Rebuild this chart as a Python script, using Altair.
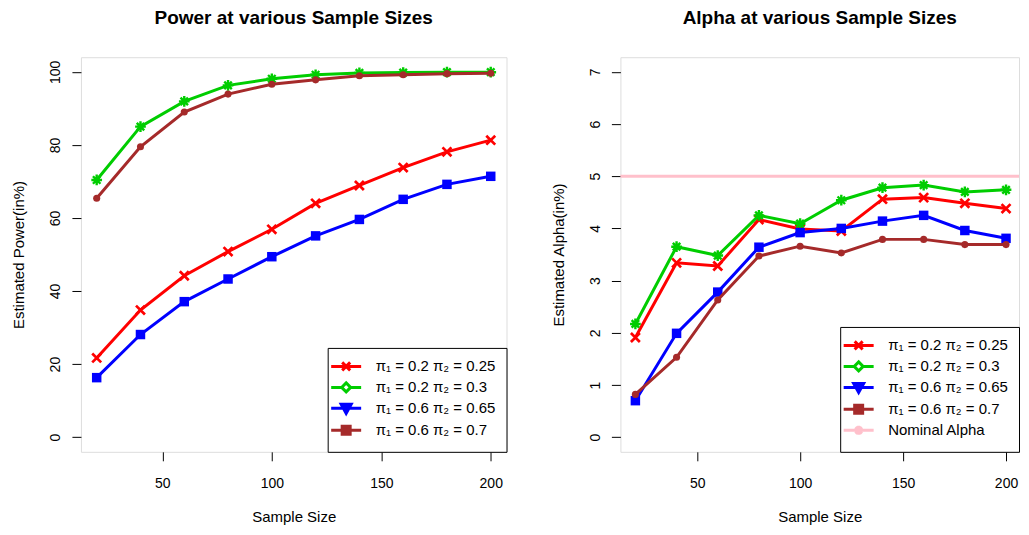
import altair as alt
import pandas as pd

# ---------------- data ----------------
sample_sizes = [20, 40, 60, 80, 100, 120, 140, 160, 180, 200]
series_labels = ["π₁ = 0.2 π₂ = 0.25", "π₁ = 0.2 π₂ = 0.3",
                 "π₁ = 0.6 π₂ = 0.65", "π₁ = 0.6 π₂ = 0.7"]
nominal_label = "Nominal Alpha"

power_red = [21.7, 34.8, 44.2, 50.8, 56.9, 64.0, 68.9, 73.8, 78.1, 81.3]
power_green = [70.4, 85.0, 91.9, 96.3, 98.1, 99.2, 99.7, 99.8, 99.9, 99.9]
power_blue = [16.3, 28.1, 37.1, 43.3, 49.4, 55.1, 59.6, 65.1, 69.2, 71.4]
power_brown = [65.4, 79.5, 89.0, 93.9, 96.6, 97.8, 98.9, 99.2, 99.5, 99.6]

alpha_red = [1.91, 3.34, 3.28, 4.17, 3.99, 3.95, 4.56, 4.59, 4.48, 4.38]
alpha_green = [2.17, 3.65, 3.48, 4.25, 4.09, 4.54, 4.78, 4.83, 4.70, 4.74]
alpha_blue = [0.70, 1.99, 2.78, 3.64, 3.92, 4.00, 4.14, 4.25, 3.96, 3.81]
alpha_brown = [0.82, 1.53, 2.63, 3.47, 3.66, 3.53, 3.79, 3.79, 3.69, 3.69]
nominal_alpha = [5]

x_ticks = [50, 100, 150, 200]
power_ticks = [0, 20, 40, 60, 80, 100]
alpha_ticks = [0, 1, 2, 3, 4, 5, 6, 7]

# ---------------- styles ----------------
FONT = "Liberation Sans"
colors = ["#FF0000", "#00CD00", "#0000FF", "#A52A2A"]
PINK = "#FFC0CB"

X_PATH = "M-1,-1L1,1M-1,1L1,-1"
AST_PATH = "M-1,0H1M0,-1V1M-0.7,-0.7L0.7,0.7M-0.7,0.7L0.7,-0.7"
# (shape, size, filled, strokeWidth)
markers = [
    (X_PATH, 80, False, 2.7),
    (AST_PATH, 115, False, 2.4),
    ("square", 90, True, 1),
    ("circle", 50, True, 1),
]

# legend symbols (line + marker), in units of sqrt(symbolSize)/2 = 5px
leg_shapes = [
    "M-3,0H3M-0.8,-0.8L0.8,0.8M-0.8,0.8L0.8,-0.8",
    "M-3,0H-0.9M0.9,0H3M0,-0.9L0.9,0L0,0.9L-0.9,0Z",
    "M-3,0H3M-1.0,-0.8H1.0L0,1.0Z",
    "M-3,0H3M-0.8,-0.8H0.8V0.8H-0.8Z",
]
leg_pink = "M-3,0H3M-0.9,0H0.9M0,-0.9V0.9M-0.65,-0.65L0.65,0.65M-0.65,0.65L0.65,-0.65"


def make_df(vals_list):
    rows = []
    for lab, vals in zip(series_labels, vals_list):
        for n, v in zip(sample_sizes, vals):
            rows.append({"n": n, "v": v, "series": lab})
    return pd.DataFrame(rows)


x_axis = alt.Axis(values=x_ticks, title="Sample Size", domain=False, grid=False,
                  tickColor="black", tickSize=9, labelFont=FONT, labelFontSize=14,
                  labelColor="black", labelPadding=16, titlePadding=19,
                  titleFont=FONT, titleFontSize=15, titleFontWeight="normal",
                  titleColor="black", labelFlush=False, labelOverlap=False)


def y_axis(title, ticks):
    return alt.Axis(values=ticks, title=title, domain=False, grid=False,
                    tickColor="black", tickSize=9, labelFont=FONT, labelFontSize=14,
                    labelColor="black", labelAngle=-90, labelAlign="center",
                    labelBaseline="bottom", labelPadding=9, titlePadding=22,
                    titleFont=FONT, titleFontSize=15, titleFontWeight="normal",
                    titleColor="black", labelOverlap=False, labelFlush=False)


def legend():
    return alt.Legend(title=None, orient="bottom-right", offset=0, padding=11,
                      strokeColor="black", fillColor="white", labelFont=FONT,
                      labelFontSize=15, labelColor="black", symbolSize=100,
                      symbolStrokeWidth=3, symbolOpacity=1, labelOffset=22,
                      rowPadding=0, cornerRadius=0, labelLimit=400)


def panel(df, title, ytitle, xdomain, ydomain, yticks, width, extra_rule=None):
    base = alt.Chart(df)
    xs = alt.X("n:Q", scale=alt.Scale(domain=xdomain, nice=False, zero=False), axis=x_axis)
    ys = alt.Y("v:Q", scale=alt.Scale(domain=ydomain, nice=False, zero=False),
               axis=y_axis(ytitle, yticks))
    layers = []
    if extra_rule is not None:
        layers.append(extra_rule)
    for lab, col, (shape, size, filled, sw) in zip(series_labels, colors, markers):
        d = base.transform_filter(alt.datum.series == lab)
        layers.append(d.mark_line(color=col, strokeWidth=3).encode(x=xs, y=ys))
        layers.append(d.mark_point(shape=shape, size=size, filled=filled, color=col,
                                   strokeWidth=sw, opacity=1).encode(x=xs, y=ys))
    # legend-only layer
    dom = list(series_labels)
    shp = list(leg_shapes)
    fills = ["#FF0000", "#FFFFFF", "#0000FF", "#A52A2A"]
    strokes = list(colors)
    if extra_rule is not None:
        dom.append(nominal_label)
        shp.append(leg_pink)
        fills.append(PINK)
        strokes.append(PINK)
    leg = base.transform_filter("datum.n < 0").mark_point(filled=True, opacity=1).encode(
        shape=alt.Shape("series:N", scale=alt.Scale(domain=dom, range=shp), legend=legend()),
        fill=alt.Fill("series:N", scale=alt.Scale(domain=dom, range=fills), legend=legend()),
        stroke=alt.Stroke("series:N", scale=alt.Scale(domain=dom, range=strokes), legend=legend()),
    )
    layers.append(leg)
    return alt.layer(*layers).properties(
        width=width, height=395,
        title=alt.TitleParams(title, font=FONT, fontSize=19, fontWeight="bold",
                              color="black", anchor="middle", offset=29),
    )


power_df = make_df([power_red, power_green, power_blue, power_brown])
alpha_df = make_df([alpha_red, alpha_green, alpha_blue, alpha_brown])

alpha_ydomain = [-0.28, 7.28]
rule = alt.Chart(pd.DataFrame({"v": nominal_alpha})).mark_rule(
    color=PINK, strokeWidth=3).encode(
    y=alt.Y("v:Q", scale=alt.Scale(domain=alpha_ydomain, nice=False, zero=False),
            axis=y_axis("Estimated Alpha(in%)", alpha_ticks)))

left = panel(power_df, "Power at various Sample Sizes", "Estimated Power(in%)",
             [12.8, 207.2], [-4, 104], power_ticks, 426)
right = panel(alpha_df, "Alpha at various Sample Sizes", "Estimated Alpha(in%)",
              [12.72, 206.3], alpha_ydomain, alpha_ticks, 399, extra_rule=rule)

chart = alt.hconcat(left, right, spacing=43).resolve_scale(
    shape="independent", fill="independent", stroke="independent"
).resolve_legend(
    shape="independent", fill="independent", stroke="independent"
).properties(
    padding={"left": 3, "top": 0, "right": 0, "bottom": 0},
    background="white",
).configure_view(stroke="black", strokeWidth=1).configure(font=FONT)

chart.save("out.html", embed_options={"renderer": "svg", "actions": False})
